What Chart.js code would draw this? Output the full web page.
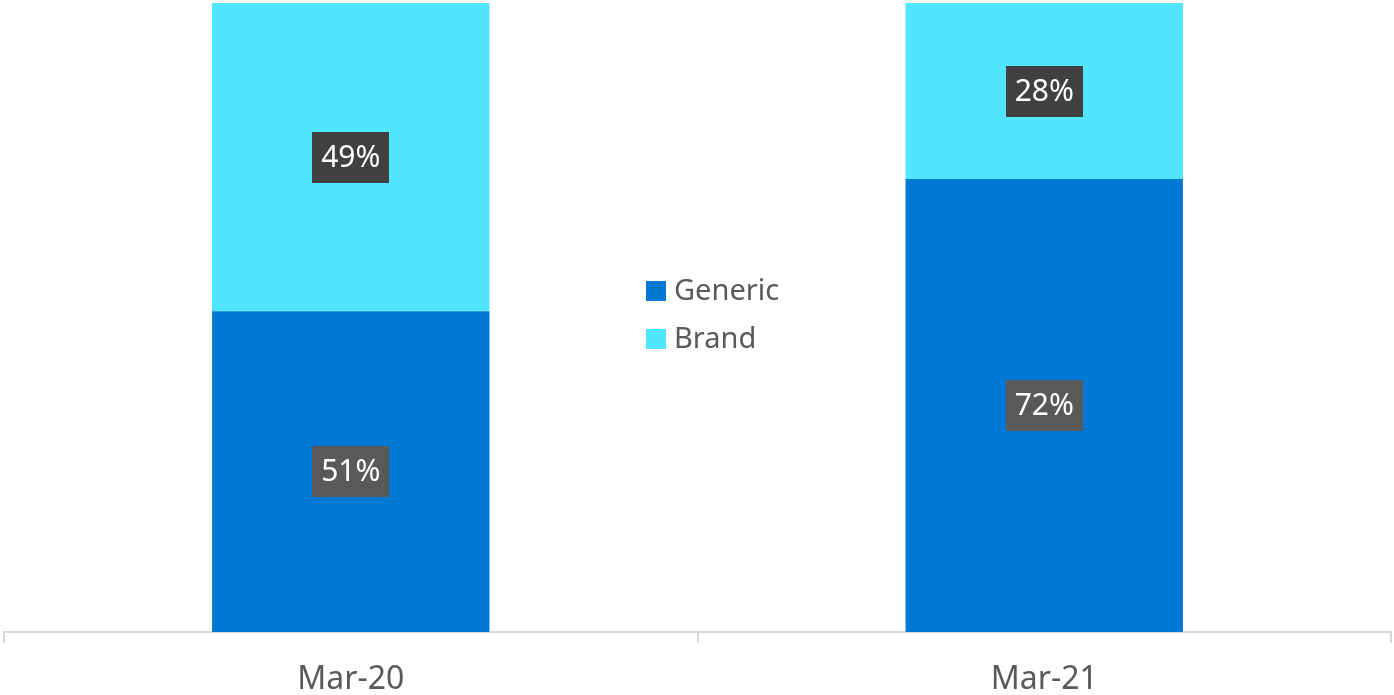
<!DOCTYPE html>
<html>
<head>
<meta charset="utf-8">
<script src="https://cdn.jsdelivr.net/npm/chart.js@4/dist/chart.umd.min.js"></script>
<style>
  html, body { margin: 0; padding: 0; background: #fff; }
  #wrap { width: 1394px; height: 695px; }
</style>
</head>
<body>
<div id="wrap"><canvas id="myChart"></canvas></div>
<script>
const labels = ['Mar-20', 'Mar-21'];
const generic = [51, 72];
const brand = [49, 28];

const FONT = '"Noto Sans", "Open Sans", sans-serif';

// boxed percentage labels in the middle of each segment
const valueBoxes = {
  id: 'valueBoxes',
  afterDatasetsDraw(chart) {
    const ctx = chart.ctx;
    ctx.save();
    ctx.font = '30px ' + FONT;
    ctx.textAlign = 'center';
    ctx.textBaseline = 'middle';
    chart.data.datasets.forEach((ds, i) => {
      const meta = chart.getDatasetMeta(i);
      meta.data.forEach((bar, j) => {
        const txt = ds.data[j] + '%';
        const cy = (bar.y + bar.base) / 2;
        const w = ctx.measureText(txt).width + 18;
        const h = 51;
        ctx.fillStyle = ds.boxColor;
        ctx.fillRect(Math.round(bar.x - w / 2), Math.round(cy - h / 2), Math.round(w), h);
        ctx.fillStyle = '#ffffff';
        ctx.fillText(txt, bar.x, cy + 1);
      });
    });
    ctx.restore();
  }
};

// legend sits in the gap between the two bars
const centerLegend = {
  id: 'centerLegend',
  afterDraw(chart) {
    const ctx = chart.ctx;
    ctx.save();
    ctx.font = '29px ' + FONT;
    ctx.textBaseline = 'middle';
    ctx.textAlign = 'left';
    chart.data.datasets.forEach((ds, i) => {
      const y = 291 + i * 48;
      ctx.fillStyle = ds.backgroundColor;
      ctx.fillRect(646, y - 10, 20, 20);
      ctx.fillStyle = '#595959';
      ctx.fillText(ds.label, 674, y + 1);
    });
    ctx.restore();
  }
};

const config = {
  type: 'bar',
  data: {
    labels: labels,
    datasets: [{
      label: 'Generic',
      backgroundColor: '#0078d4',
      boxColor: '#595959',
      data: generic,
      barPercentage: 0.4,
      categoryPercentage: 1
    }, {
      label: 'Brand',
      backgroundColor: '#50e6ff',
      boxColor: '#404040',
      data: brand,
      barPercentage: 0.4,
      categoryPercentage: 1
    }]
  },
  options: {
    responsive: true,
    maintainAspectRatio: false,
    animation: false,
    layout: { padding: { left: 4, right: 3, top: 3, bottom: 0 } },
    plugins: {
      legend: { display: false },
      tooltip: { enabled: false }
    },
    scales: {
      x: {
        stacked: true,
        offset: true,
        border: { display: true, color: '#d9d9d9', width: 2 },
        grid: {
          offset: true,
          drawOnChartArea: false,
          drawTicks: true,
          tickLength: 11,
          color: '#d9d9d9',
          lineWidth: 2
        },
        ticks: {
          color: '#595959',
          font: { family: FONT, size: 32 },
          padding: 18
        },
        afterFit(scale) { scale.height = 63; }
      },
      y: {
        stacked: true,
        display: false,
        min: 0,
        max: 100
      }
    }
  },
  plugins: [valueBoxes, centerLegend]
};

var myChart = new Chart(document.getElementById('myChart'), config);
</script>
</body>
</html>
